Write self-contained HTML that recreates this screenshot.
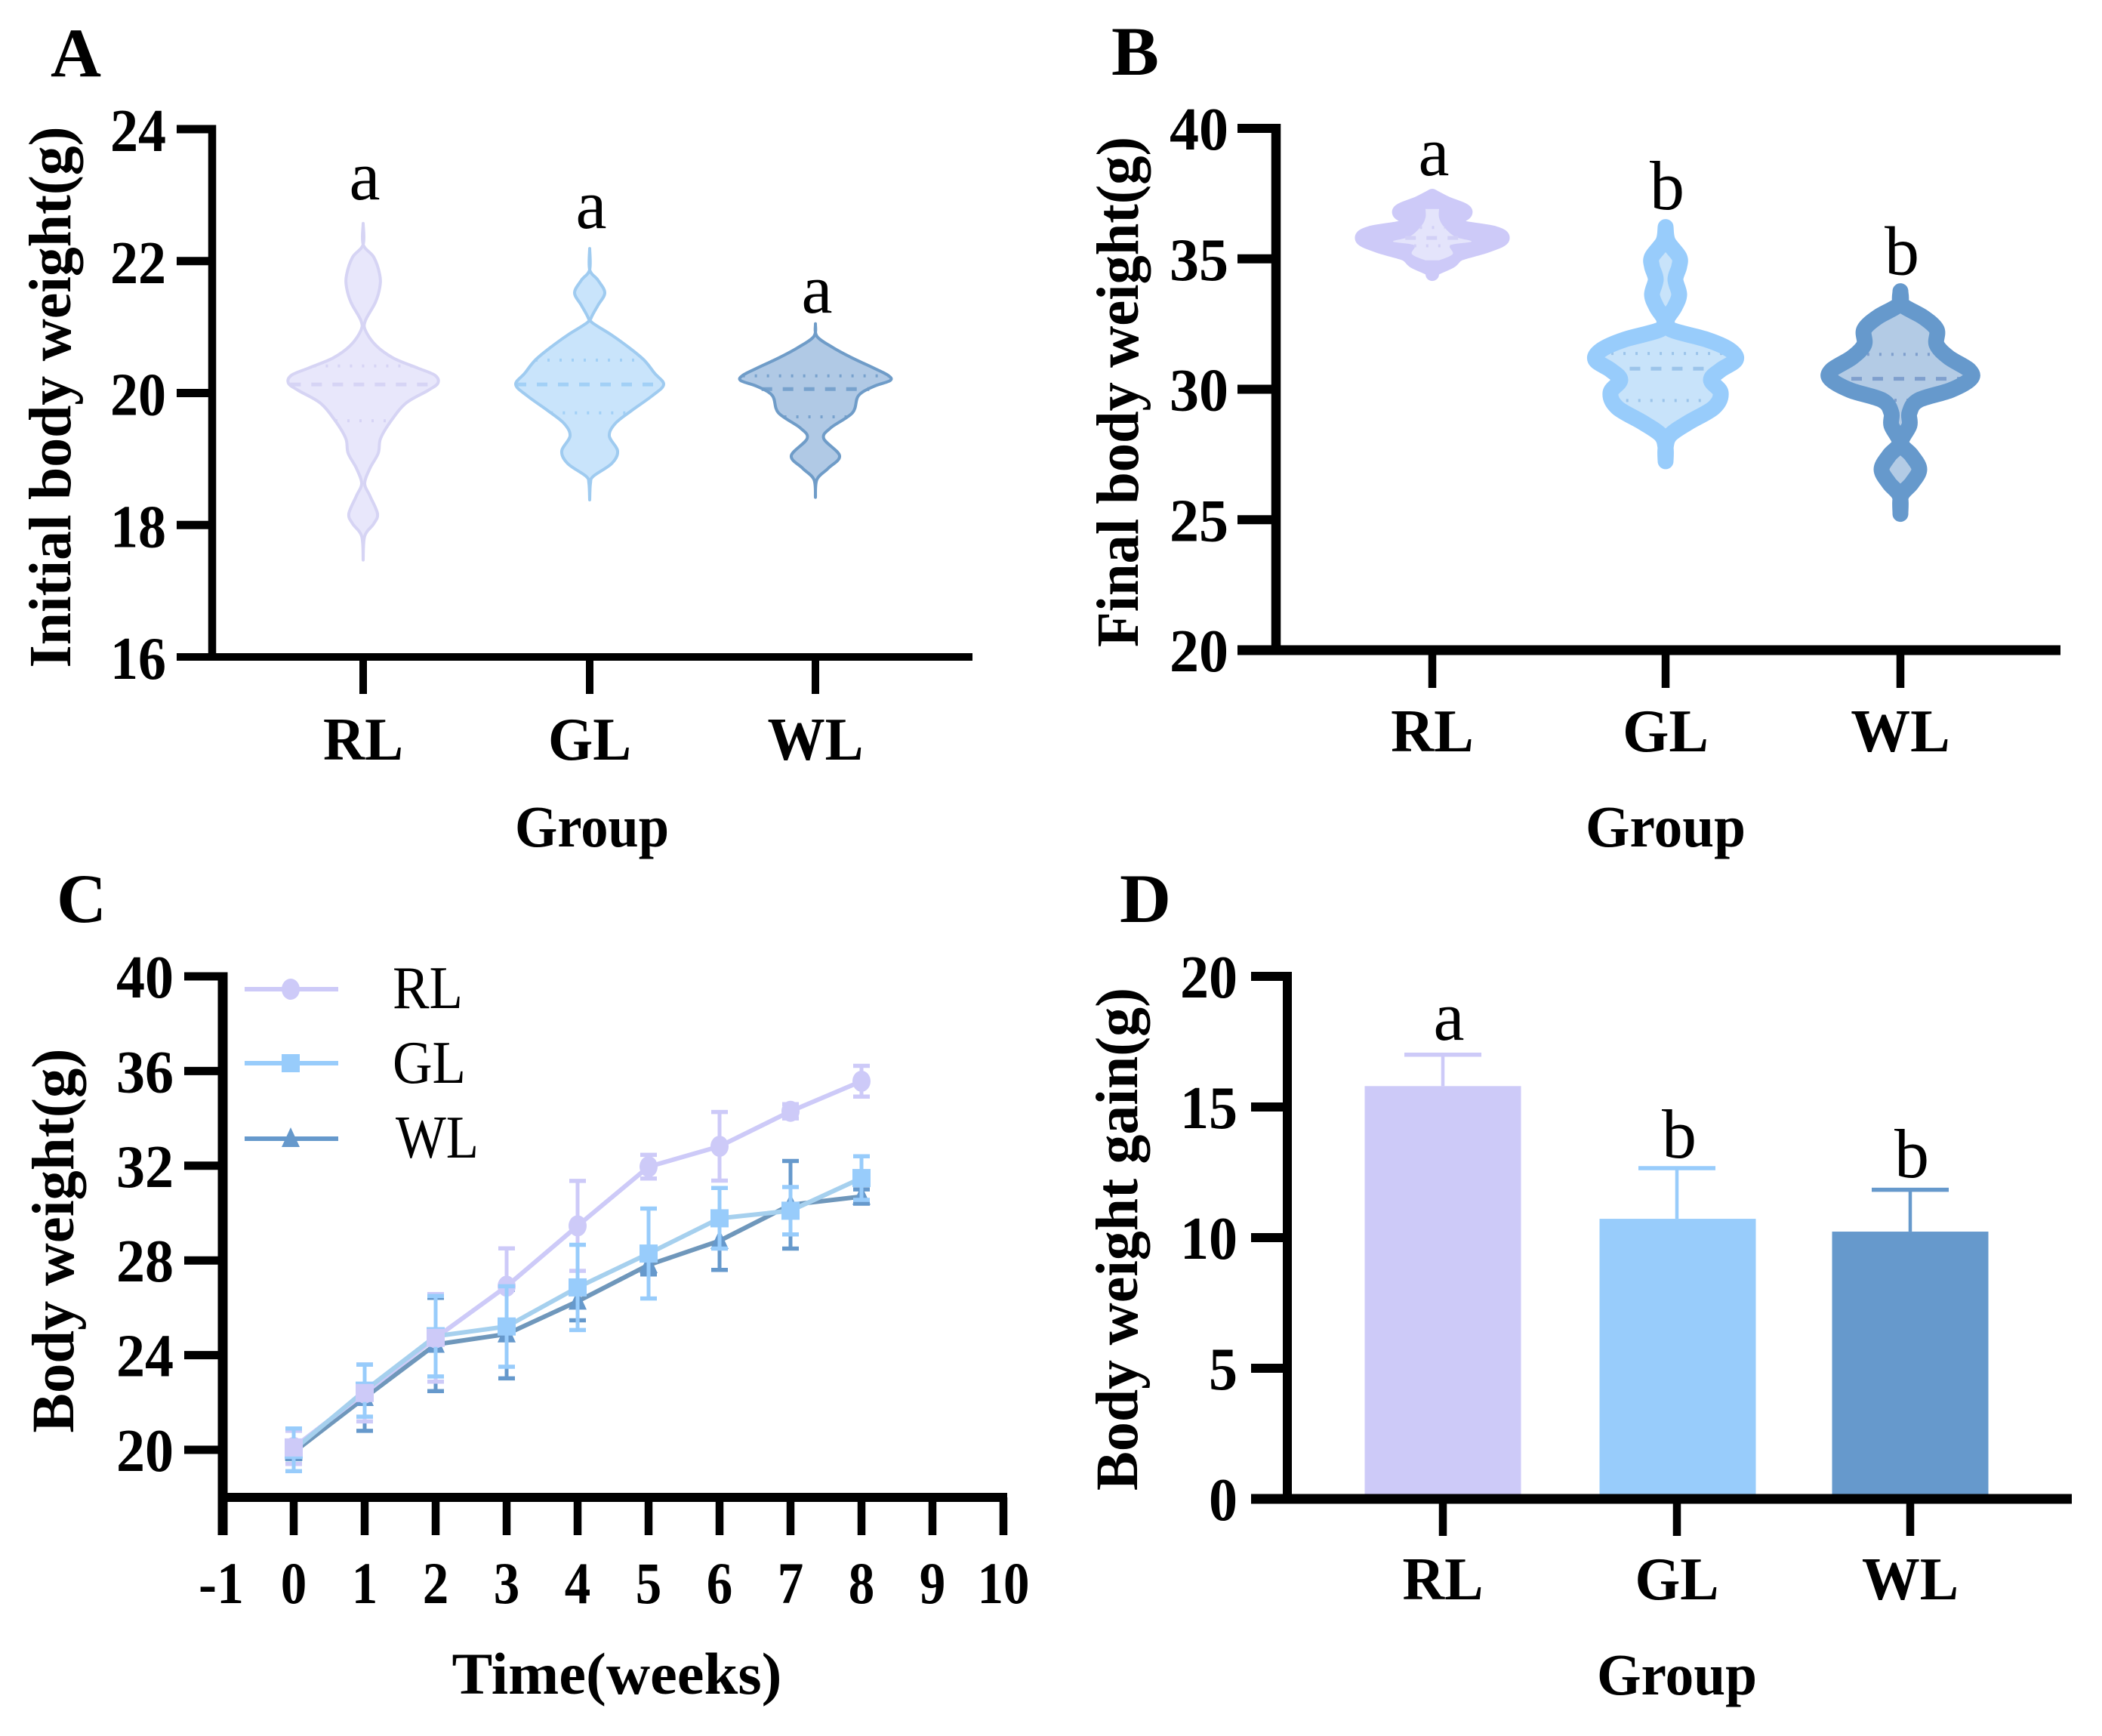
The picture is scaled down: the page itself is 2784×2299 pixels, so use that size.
<!DOCTYPE html>
<html lang="en">
<head>
<meta charset="utf-8">
<title>Body weight panels</title>
<style>
html,body{margin:0;padding:0;background:#fff;}
svg{display:block;}
text{font-family:"Liberation Serif",serif;fill:#000;}
.b{font-weight:700;}
</style>
</head>
<body>
<svg id="fig" xmlns="http://www.w3.org/2000/svg" width="2784" height="2299" viewBox="0 0 2784 2299">
<rect width="2784" height="2299" fill="#fff"/>
<text class="b" x="67" y="101" font-size="92" textLength="67" lengthAdjust="spacingAndGlyphs">A</text>
<text class="b" x="1472" y="99" font-size="92" textLength="63" lengthAdjust="spacingAndGlyphs">B</text>
<text class="b" x="75" y="1221" font-size="92" textLength="66" lengthAdjust="spacingAndGlyphs">C</text>
<text class="b" x="1483" y="1221" font-size="92" textLength="68" lengthAdjust="spacingAndGlyphs">D</text>
<text class="b" transform="translate(93 526) rotate(-90)" text-anchor="middle" font-size="79" textLength="717" lengthAdjust="spacingAndGlyphs">Initial body weight(g)</text>
<text class="b" transform="translate(1507 519) rotate(-90)" text-anchor="middle" font-size="79" textLength="676" lengthAdjust="spacingAndGlyphs">Final body weight(g)</text>
<text class="b" transform="translate(97 1643) rotate(-90)" text-anchor="middle" font-size="79" textLength="509" lengthAdjust="spacingAndGlyphs">Body weight(g)</text>
<text class="b" transform="translate(1506 1641) rotate(-90)" text-anchor="middle" font-size="79" textLength="666" lengthAdjust="spacingAndGlyphs">Body weight gain(g)</text>
<text class="b" x="784" y="1121" text-anchor="middle" font-size="78" textLength="204" lengthAdjust="spacingAndGlyphs">Group</text>
<text class="b" x="2206" y="1121" text-anchor="middle" font-size="78" textLength="212" lengthAdjust="spacingAndGlyphs">Group</text>
<text class="b" x="817" y="2243" text-anchor="middle" font-size="78" textLength="437" lengthAdjust="spacingAndGlyphs">Time(weeks)</text>
<text class="b" x="2221" y="2244" text-anchor="middle" font-size="78" textLength="212" lengthAdjust="spacingAndGlyphs">Group</text>
<text x="520" y="1335" font-size="80" textLength="93" lengthAdjust="spacingAndGlyphs">RL</text>
<text x="520" y="1434" font-size="80" textLength="97" lengthAdjust="spacingAndGlyphs">GL</text>
<text x="524" y="1533" font-size="80" textLength="110" lengthAdjust="spacingAndGlyphs">WL</text>
</svg>
<script>
// ---------- shared categories ----------
const groups = ['RL', 'GL', 'WL'];

// ---------- panel A: violin profiles (value, relative density) ----------
const aTicks = [16, 18, 20, 22, 24];
const aRLValues = [22.57,22.25,22.06,21.79,21.60,21.37,21.10,20.95,20.72,20.53,20.38,20.27,20.15,20.04,19.85,19.58,19.31,19.09,18.86,18.63,18.44,18.17,18.02,17.83,17.47];
const aRLDensity = [0,0,.14,.22,.22,.16,.03,.03,.17,.40,.72,.95,.99,.86,.57,.37,.23,.20,.09,.02,.09,.19,.14,.02,0];
const aGLValues = [22.19,21.87,21.71,21.52,21.33,21.14,21.07,20.88,20.69,20.50,20.30,20.13,19.96,19.73,19.54,19.35,19.12,18.93,18.74,18.63,18.38];
const aGLDensity = [0,0,.11,.20,.11,.02,.03,.29,.52,.72,.86,.98,.83,.55,.34,.26,.37,.29,.05,.01,0];
const aWLValues = [21.05,20.86,20.69,20.53,20.38,20.27,20.19,20.10,19.96,19.70,19.47,19.31,19.05,18.86,18.69,18.42];
const aWLDensity = [0,.02,.23,.49,.77,.96,.99,.77,.57,.49,.20,.11,.32,.17,.02,0];
const aQuartiles = [[20.41,20.13,19.58],[20.50,20.13,19.70],[20.26,20.06,19.64]];
const aLetters = ['a', 'a', 'a'];

// ---------- panel B: violin profiles ----------
const bTicks = [20, 25, 30, 35, 40];
const bRLValues = [37.42,37.15,36.82,36.53,36.24,36.00,35.76,35.47,35.18,34.89,34.60,34.41];
const bRLDensity = [0,.18,.44,.33,.36,.82,.93,.70,.36,.24,.03,0];
const bRLInnerValues = [36.91,36.58,36.24,35.85,35.66,35.52,35.18,34.94];
const bRLInnerDensity = [.09,.09,.15,.30,.52,.24,.27,.09];
const bGLValues = [36.22,35.66,35.08,34.70,34.21,33.63,33.15,32.67,32.29,31.90,31.51,31.13,30.74,30.36,29.87,29.30,28.72,28.24,27.75,27.24];
const bGLDensity = [0,.03,.18,.18,.13,.18,.12,.02,.07,.55,.85,.93,.73,.60,.73,.64,.30,.06,0,0];
const bWLValues = [33.76,33.25,32.77,32.29,31.71,31.22,30.74,30.40,29.97,29.58,29.10,28.62,27.95,27.46,26.93,26.40,25.92,25.22];
const bWLDensity = [0,.02,.30,.48,.48,.64,.91,.93,.67,.24,.12,.12,.01,.15,.25,.15,.01,0];
const bQuartiles = [[36.2,35.8,35.5],[31.37,30.79,29.57],[31.34,30.40,29.58]];
const bLetters = ['a', 'b', 'b'];
const bLetterValues = [38.2, 36.9, 34.4];

// ---------- panel C: time series ----------
const weeks = [0, 1, 2, 3, 4, 5, 6, 7, 8];
const cXTicks = [-1, 0, 1, 2, 3, 4, 5, 6, 7, 8, 9, 10];
const cYTicks = [20, 24, 28, 32, 36, 40];
const rlMean = [20.1, 22.4, 24.73, 26.91, 29.46, 31.96, 32.82, 34.3, 35.57];
const rlErr = [0.7, 1.2, 1.85, 1.6, 1.9, 0.5, 1.45, 0.3, 0.65];
const glMean = [20.0, 22.5, 24.8, 25.21, 26.86, 28.29, 29.78, 30.1, 31.48];
const glErr = [0.9, 1.1, 1.7, 1.7, 1.8, 1.9, 1.28, 1.0, 0.92];
const wlMean = [19.9, 22.2, 24.45, 24.89, 26.27, 27.81, 28.83, 30.35, 30.7];
const wlErr = [0.3, 1.4, 1.97, 1.87, 0.8, 0.4, 1.23, 1.85, 0.3];

// ---------- panel D: bars ----------
const dTicks = [0, 5, 10, 15, 20];
const dMeans = [15.8, 10.72, 10.23];
const dErrs = [1.2, 1.94, 1.6];
const dLetters = ['a', 'b', 'b'];

// ---------- helpers ----------
const NS = 'http://www.w3.org/2000/svg';
const svg = document.getElementById('fig');
const BLACK = '#000';
const strokeRL = '#cdcaf8', strokeGL = '#98ccfb', strokeWL = '#6699cc';

function mk(tag, attrs, txt) {
  const n = document.createElementNS(NS, tag);
  for (const k in attrs) n.setAttribute(k, attrs[k]);
  if (txt !== undefined) n.textContent = txt;
  svg.appendChild(n);
  return n;
}
function linear(d0, d1, r0, r1) { return v => r0 + (v - d0) * (r1 - r0) / (d1 - d0); }

function seg(x1, y1, x2, y2, color, w, name) {
  const el = mk('line', {x1, y1, x2, y2, stroke: color, 'stroke-width': w});
  
  
  return el;
}
function label(x, y, str, size, anchor, bold, name, len) {
  const el = mk('text', {x, y, 'font-size': size, 'text-anchor': anchor, 'class': bold ? 'b' : ''}, str);
  
  
  if (len) {
    el.setAttribute('textLength', len);
    el.setAttribute('lengthAdjust', 'spacingAndGlyphs');
  }
  return el;
}
function letterLabel(x, y, s) {
  label(x, y, s, 92, 'middle', false, 'significance-letter', s === 'a' ? 41 : 46);
}

function drawAxes(p) {
  const top = p.yScale(p.yTicks[p.yTicks.length - 1]);
  seg(p.axisX, top - p.tickW / 2, p.axisX, p.axisY + p.xW / 2, BLACK, p.yW, 'y-axis-line');
  seg(p.tickLeft, p.axisY, p.xEnd, p.axisY, BLACK, p.xW, 'x-axis-line');
  p.yTicks.forEach(t => {
    const y = p.yScale(t);
    seg(p.tickLeft, y, p.axisX, y, BLACK, t === p.yTicks[0] ? p.xW : p.tickW, 'y-tick');
    label(p.labelRight, y + p.labelDy, String(t), 80, 'end', true, 'y-tick-label', String(t).length * p.charW);
  });
}

function catmull(pts) {
  let d = '';
  for (let i = 0; i < pts.length - 1; i++) {
    const p0 = pts[Math.max(i - 1, 0)], p1 = pts[i], p2 = pts[i + 1], p3 = pts[Math.min(i + 2, pts.length - 1)];
    const c1 = [p1[0] + (p2[0] - p0[0]) / 6, p1[1] + (p2[1] - p0[1]) / 6];
    const c2 = [p2[0] - (p3[0] - p1[0]) / 6, p2[1] - (p3[1] - p1[1]) / 6];
    d += ' C' + c1[0].toFixed(1) + ' ' + c1[1].toFixed(1) + ' ' + c2[0].toFixed(1) + ' ' + c2[1].toFixed(1) + ' ' + p2[0].toFixed(1) + ' ' + p2[1].toFixed(1);
  }
  return d;
}
function densityAt(values, dens, v) {
  for (let i = 0; i < values.length - 1; i++) {
    if (v <= values[i] && v >= values[i + 1]) {
      const t = (values[i] - v) / (values[i] - values[i + 1]);
      return dens[i] + (dens[i + 1] - dens[i]) * t;
    }
  }
  return 0;
}
const densityScale = 100;
function violinPath(cx, yScale, values, dens) {
  const right = values.map((v, i) => [cx + dens[i] * densityScale, yScale(v)]);
  const left = values.map((v, i) => [cx - dens[i] * densityScale, yScale(v)]).reverse();
  return 'M' + right[0][0].toFixed(1) + ' ' + right[0][1].toFixed(1) + catmull(right) + ' L' + left[0][0].toFixed(1) + ' ' + left[0][1].toFixed(1) + catmull(left) + ' Z';
}
function drawQuartiles(cx, yScale, values, dens, quart, color) {
  quart.forEach((q, i) => {
    const hw = densityAt(values, dens, q) * densityScale;
    const y = yScale(q);
    const isMedian = i === 1;
    const el = mk('line', {x1: cx - hw, y1: y, x2: cx + hw, y2: y, stroke: color,
      'stroke-width': isMedian ? 5 : 4, 'stroke-dasharray': isMedian ? '14 14' : '3 13'});
    
    
  });
}
function drawViolin(cx, yScale, values, dens, quart, st) {
  const d = violinPath(cx, yScale, values, dens);
  const fillEl = mk('path', {d, fill: st.fill, stroke: 'none'});
  
  
  if (!st.innerValues) drawQuartiles(cx, yScale, values, dens, quart, st.line);
  const outline = mk('path', {d, fill: 'none', stroke: st.stroke, 'stroke-width': st.w, 'stroke-linejoin': 'round', 'stroke-linecap': 'round'});
  
  
  if (st.innerValues) {
    const inner = mk('path', {d: violinPath(cx, yScale, st.innerValues, st.innerDensity), fill: st.innerFill});
    
    
    drawQuartiles(cx, yScale, st.innerValues, st.innerDensity, quart, st.line);
  }
}
function drawCategoryTicks(xs, axisY, bottom, lw, labelY, widthScale) {
  const catWidths = [106, 110, 127];
  xs.forEach((x, i) => {
    seg(x, axisY, x, bottom, BLACK, lw, 'x-tick');
    label(x, labelY, groups[i], 81, 'middle', true, 'x-tick-label', catWidths[i] * widthScale);
  });
}

// ---------- panel A ----------
const aY = linear(16, 24, 870, 171);
const aX = [481, 781, 1080];
const aStyles = [
  {fill: '#e8e7fb', stroke: '#d6d4f4', line: '#d6d4f5', w: 4},
  {fill: '#c9e4fb', stroke: '#9fcbf0', line: '#a2d0f6', w: 4},
  {fill: '#b0c9e5', stroke: '#6f9cc8', line: '#78a2cd', w: 4}
];
const aProfiles = [[aRLValues, aRLDensity], [aGLValues, aGLDensity], [aWLValues, aWLDensity]];
aProfiles.forEach((p, i) => drawViolin(aX[i], aY, p[0], p[1], aQuartiles[i], aStyles[i]));
drawAxes({axisX: 281, axisY: 870, yScale: aY, yTicks: aTicks, tickLeft: 234, xEnd: 1288, yW: 10.5, xW: 10, tickW: 11, labelRight: 220, labelDy: 29, charW: 37});
drawCategoryTicks(aX, 870, 919, 10, 1006, 1);
aLetters.forEach((s, i) => letterLabel(aX[i] + 2, [264, 302, 414][i], s));

// ---------- panel B ----------
const bY = linear(20, 40, 861, 170);
const bX = [1897, 2206, 2517];
const bStyles = [
  {fill: strokeRL, stroke: strokeRL, line: '#d2d0f6', w: 18, innerValues: bRLInnerValues, innerDensity: bRLInnerDensity, innerFill: '#e4e4fb'},
  {fill: '#c8e3fa', stroke: strokeGL, line: '#9cc4ea', w: 21},
  {fill: '#b3cbe5', stroke: strokeWL, line: '#7f9fcd', w: 21}
];
const bProfiles = [[bRLValues, bRLDensity], [bGLValues, bGLDensity], [bWLValues, bWLDensity]];
bProfiles.forEach((p, i) => drawViolin(bX[i], bY, p[0], p[1], bQuartiles[i], bStyles[i]));
drawAxes({axisX: 1690, axisY: 861, yScale: bY, yTicks: bTicks, tickLeft: 1639, xEnd: 2729, yW: 12.5, xW: 13, tickW: 12, labelRight: 1627, labelDy: 28, charW: 39});
drawCategoryTicks(bX, 861, 911, 10.5, 995, 1.035);
bLetters.forEach((s, i) => letterLabel(bX[i] + 2, bY(bLetterValues[i]), s));

// ---------- panel C ----------
const cX = linear(-1, 10, 295, 1329);
const cY = linear(20, 40, 1920, 1293);
const cAxisY = 1983;
const markerR = 12;
function drawMarker(kind, x, y, color, name) {
  let el;
  if (kind === 'circle') {
    el = mk('ellipse', {cx: x, cy: y, rx: markerR, ry: markerR + 2, fill: color});
  } else if (kind === 'square') {
    el = mk('rect', {x: x - markerR, y: y - markerR, width: markerR * 2, height: markerR * 2, fill: color});
  } else {
    el = mk('polygon', {points: (x) + ',' + (y - markerR - 3) + ' ' + (x + markerR) + ',' + (y + markerR - 1) + ' ' + (x - markerR) + ',' + (y + markerR - 1), fill: color});
  }
  
  
}
function drawSeries(means, errs, color, lineColor, kind, name) {
  means.forEach((m, i) => {
    const x = cX(weeks[i]);
    seg(x, cY(m - errs[i]), x, cY(m + errs[i]), color, 5, 'error-bar');
    seg(x - 11, cY(m + errs[i]), x + 11, cY(m + errs[i]), color, 5.5, 'error-cap');
    seg(x - 11, cY(m - errs[i]), x + 11, cY(m - errs[i]), color, 5.5, 'error-cap');
  });
  const pts = means.map((m, i) => cX(weeks[i]).toFixed(1) + ',' + cY(m).toFixed(1)).join(' ');
  const line = mk('polyline', {points: pts, fill: 'none', stroke: lineColor, 'stroke-width': 6});
  
  
  means.forEach((m, i) => drawMarker(kind, cX(weeks[i]), cY(m), color, 'point-' + name));
}
drawSeries(wlMean, wlErr, strokeWL, '#6f97bb', 'triangle', 'wl');
drawSeries(rlMean, rlErr, strokeRL, strokeRL, 'circle', 'rl');
drawSeries(glMean, glErr, strokeGL, '#a6d0ee', 'square', 'gl');
// RL sits on top of GL through the early shared weeks
rlMean.slice(0, 3).forEach((m, i) => drawMarker('square', cX(weeks[i]), cY(m), strokeRL, 'point-rl-early'));

seg(295, 1293 - 5.5, 295, 2033, BLACK, 13, 'y-axis-line');
seg(295, cAxisY, 1334, cAxisY, BLACK, 12, 'x-axis-line');
cYTicks.forEach(t => {
  const y = cY(t);
  seg(244, y, 295, y, BLACK, 11, 'y-tick');
  label(230, y + 28, String(t), 80, 'end', true, 'y-tick-label', String(t).length * 38);
});
cXTicks.forEach(t => {
  const x = cX(t);
  if (t !== -1) seg(x, cAxisY, x, 2033, BLACK, 10.5, 'x-tick');
  const w = t === -1 ? 60 : String(t).length * 34.5;
  label(x + (t === -1 ? -2 : 0), 2123, String(t), 78, 'middle', true, 'x-tick-label', w);
});
// legend
const legendY = [1310, 1408, 1508];
const legendColors = [strokeRL, strokeGL, strokeWL];
const legendKinds = ['circle', 'square', 'triangle'];
legendY.forEach((y, i) => {
  seg(324, y, 448, y, legendColors[i], 6, 'legend-line');
  drawMarker(legendKinds[i], 385, y, legendColors[i], 'legend-marker');
});

// ---------- panel D ----------
const dY = linear(0, 20, 1985, 1293);
const dX = [1911, 2221, 2530];
const barWidth = 207;
const barColors = [strokeRL, strokeGL, strokeWL];
dMeans.forEach((m, i) => {
  const top = dY(m);
  const cx = dX[i];
  const bcx = cx + [0, 1, 0][i];
  const bar = mk('rect', {x: bcx - barWidth / 2, y: top, width: barWidth, height: dY(0) - top, fill: barColors[i]});
  
  
  const hi = dY(m + dErrs[i]);
  seg(cx, hi, cx, top, barColors[i], 4.5, 'bar-error-stem');
  seg(cx - 51, hi, cx + 51, hi, barColors[i], 5.5, 'bar-error-cap');
  letterLabel(cx + 8 - [0, 5, 6][i], [1377, 1533, 1559][i], dLetters[i]);
});
drawAxes({axisX: 1705, axisY: 1985, yScale: dY, yTicks: dTicks, tickLeft: 1657, xEnd: 2744, yW: 12, xW: 13, tickW: 12, labelRight: 1639, labelDy: 28, charW: 38});
drawCategoryTicks(dX, 1985, 2034, 10.5, 2118, 1.01);
</script>
</body>
</html>
